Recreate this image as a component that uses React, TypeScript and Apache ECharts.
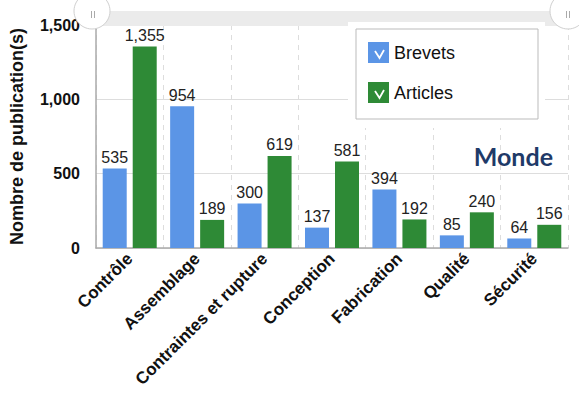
import React, { useEffect, useRef } from "react";
import * as echarts from "echarts";

const categories = ["Contrôle", "Assemblage", "Contraintes et rupture", "Conception", "Fabrication", "Qualité", "Sécurité"];
const brevets = [535, 954, 300, 137, 394, 85, 64];
const articles = [1355, 189, 619, 581, 192, 240, 156];
const seriesNames = ["Brevets", "Articles"];
const yTicks = { min: 0, max: 1500, interval: 500 };

const FONT = "'Liberation Sans', Arial, sans-serif";
const fmt = (v: number) => v.toLocaleString("en-US");

export default function App() {
  const ref = useRef<HTMLDivElement>(null);
  useEffect(() => {
    if (!ref.current) return;
    const chart = echarts.init(ref.current, null, { renderer: "svg" });
    const label = {
      show: true,
      position: "top",
      distance: 3,
      fontSize: 16,
      color: "#222",
      fontFamily: FONT,
      formatter: (p: any) => fmt(p.value),
    };
    chart.setOption({
      animation: false,
      textStyle: { fontFamily: FONT },
      grid: { left: 92, right: 11, top: 25, bottom: 150 },
      legend: {
        data: seriesNames,
        orient: "vertical",
        left: 368,
        top: 42,
        padding: 0,
        itemWidth: 21,
        itemHeight: 21,
        itemGap: 19,
        icon: "rect",
        textStyle: { fontSize: 18, color: "#111", fontFamily: FONT },
        z: 6,
      },
      xAxis: {
        type: "category",
        data: categories,
        axisLine: { show: true, lineStyle: { color: "#aaa", width: 1.5 } },
        axisTick: { show: false },
        splitLine: { show: true, lineStyle: { color: "#ddd", type: [5, 5], width: 1 } },
        axisLabel: {
          rotate: 45,
          interval: 0,
          margin: 8,
          fontSize: 17,
          fontWeight: "bold",
          color: "#111",
          fontFamily: FONT,
        },
      },
      yAxis: {
        type: "value",
        min: yTicks.min,
        max: yTicks.max,
        interval: yTicks.interval,
        name: "Nombre de publication(s)",
        nameLocation: "middle",
        nameRotate: 90,
        nameGap: 70,
        nameTextStyle: { fontSize: 18, fontWeight: "bold", color: "#111", fontFamily: FONT },
        axisLine: { show: true, lineStyle: { color: "#aaa", width: 1.5 } },
        axisTick: { show: false },
        splitLine: { show: true, lineStyle: { color: "#ddd", width: 1 } },
        axisLabel: {
          margin: 16,
          fontSize: 16,
          fontWeight: "bold",
          color: "#111",
          fontFamily: FONT,
          formatter: (v: number) => fmt(v),
        },
      },
      series: [
        {
          name: seriesNames[0],
          type: "bar",
          data: brevets,
          barWidth: 24,
          barGap: "25%",
          itemStyle: { color: "#5b95e6" },
          label,
        },
        {
          name: seriesNames[1],
          type: "bar",
          data: articles,
          barWidth: 24,
          barGap: "25%",
          itemStyle: { color: "#2e8a36" },
          label,
        },
      ],
      graphic: [
        { type: "rect", z: 1, shape: { x: 92, y: 11, width: 476, height: 15 }, style: { fill: "#ebebeb" } },
        { type: "rect", z: 3, shape: { x: 348, y: 22, width: 197, height: 106 }, style: { fill: "#fff" } },
        { type: "rect", z: 4, shape: { x: 356, y: 29, width: 182, height: 90 }, style: { fill: "#fff", stroke: "#bbb", lineWidth: 1 } },
        { type: "circle", z: 5, shape: { cx: 92, cy: 11, r: 18 }, style: { fill: "#fff", stroke: "#d0d0d0", lineWidth: 1 } },
        { type: "circle", z: 5, shape: { cx: 568, cy: 11, r: 18 }, style: { fill: "#fff", stroke: "#d0d0d0", lineWidth: 1 } },
        { type: "rect", z: 6, shape: { x: 91, y: 11, width: 1, height: 7 }, style: { fill: "#aaa" } },
        { type: "rect", z: 6, shape: { x: 94, y: 11, width: 1, height: 7 }, style: { fill: "#aaa" } },
        { type: "rect", z: 6, shape: { x: 566, y: 11, width: 1, height: 7 }, style: { fill: "#aaa" } },
        { type: "rect", z: 6, shape: { x: 569, y: 11, width: 1, height: 7 }, style: { fill: "#aaa" } },
        { type: "polyline", z: 10, shape: { points: [[375, 51], [379.5, 58], [384, 50]] }, style: { stroke: "#fff", lineWidth: 1.8, fill: null } },
        { type: "polyline", z: 10, shape: { points: [[375, 91], [379.5, 98], [384, 90]] }, style: { stroke: "#fff", lineWidth: 1.8, fill: null } },
        {
          type: "text",
          z: 6,
          x: 553,
          y: 156,
          style: {
            text: "Monde",
            fill: "#1f3a68",
            fontSize: 25,
            fontWeight: "bold",
            fontFamily: "Lato, 'Open Sans', sans-serif",
            align: "right",
            verticalAlign: "middle",
          },
        },
      ],
    });
    return () => chart.dispose();
  }, []);
  return <div ref={ref} style={{ position: "absolute", left: 0, top: 0, width: 579, height: 398 }} />;
}
